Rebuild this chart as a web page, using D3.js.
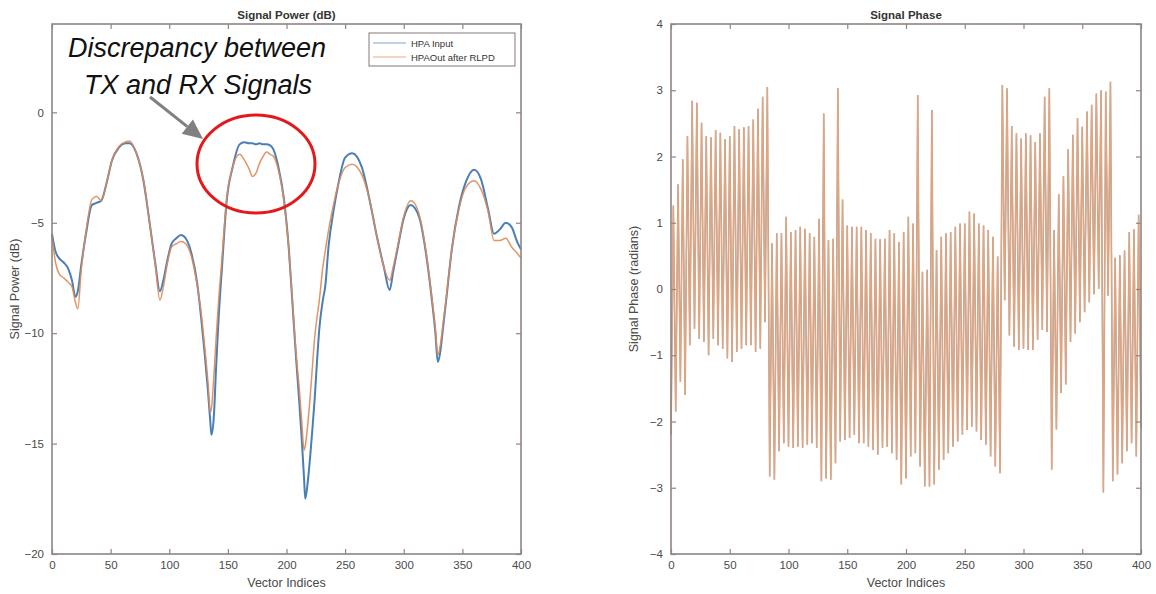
<!DOCTYPE html>
<html>
<head>
<meta charset="utf-8">
<script src="https://d3js.org/d3.v7.min.js"></script>
<style>
  body { margin: 0; background: #fff; }
  svg text { font-family: "Liberation Sans", Arial, sans-serif; }
</style>
</head>
<body>
<svg id="chart" width="1156" height="594"></svg>
<script>

// ---- data ----
var powerIdx = [0, 3, 6, 10, 14, 17, 20, 22, 25, 29, 34, 38, 42, 47, 51, 57, 63, 66, 72, 78,
    83, 88, 92, 95, 98, 102, 106, 110, 114, 119, 124, 127, 130, 133, 135, 136, 138, 140, 142, 145,
    149, 154, 160, 164, 168, 171, 174, 177, 180, 183, 186, 189, 193, 198, 202, 205, 208, 211, 213, 215,
    216, 218, 220, 222, 224, 226, 228, 231, 233, 236, 240, 244, 250, 256, 264, 271, 277, 283, 288, 291,
    295, 300, 306, 309, 314, 319, 324, 327, 329, 331, 333, 336, 341, 347, 353, 360, 366, 372, 377, 382,
    387, 392, 397, 400];

// HPA Input (blue)
var powerIn = [-5.5, -6.3, -6.6, -6.8, -7.1, -7.6, -8.35, -8.1, -6.9, -5.5, -4.2, -4.1, -4.0, -3.1, -2.2, -1.6, -1.4, -1.4, -1.85, -3.1,
    -4.9, -6.8, -8.1, -7.6, -6.8, -5.95, -5.7, -5.55, -5.7, -6.4, -7.8, -9.2, -10.8, -12.6, -14.0, -14.6, -13.8, -11.5, -9.4, -7.0,
    -4.0, -2.5, -1.45, -1.35, -1.4, -1.4, -1.45, -1.4, -1.45, -1.45, -1.5, -1.7, -2.45, -4.0, -6.2, -8.6, -11.0, -13.2, -14.8, -16.6,
    -17.5, -16.8, -15.7, -14.4, -13.0, -11.3, -9.8, -8.5, -7.9, -6.0, -4.5, -3.3, -2.05, -1.85, -2.45, -4.0, -5.6, -7.0, -8.05, -7.2,
    -6.1, -4.8, -4.2, -4.3, -4.9, -6.4, -8.5, -10.0, -11.3, -10.9, -10.0, -8.6, -6.2, -4.3, -3.15, -2.6, -3.05, -4.4, -5.5, -5.3,
    -5.0, -5.2, -5.9, -6.2];

// HPAOut after RLPD (orange)
var powerOut = [-5.6, -6.8, -7.3, -7.5, -7.7, -7.9, -8.6, -8.9, -7.1, -5.4, -3.95, -3.8, -4.0, -3.1, -2.2, -1.55, -1.33, -1.3, -1.85, -3.05,
    -4.9, -6.85, -8.5, -7.9, -6.95, -6.1, -5.95, -5.85, -5.95, -6.55, -7.9, -9.0, -10.5, -12.2, -13.6, -13.4, -12.0, -10.2, -8.6, -6.6,
    -3.9, -2.5, -1.9, -2.15, -2.55, -2.9, -2.75, -2.3, -2.0, -1.8, -1.9, -2.0, -2.6, -4.1, -6.2, -8.5, -10.8, -12.6, -14.0, -15.3,
    -15.1, -14.2, -13.0, -11.6, -10.2, -9.3, -8.5, -7.0, -6.3, -5.3, -4.2, -3.3, -2.5, -2.35, -2.8, -4.0, -5.6, -7.0, -7.6, -7.0,
    -6.0, -4.7, -4.0, -4.1, -4.8, -6.3, -8.4, -9.8, -11.0, -10.6, -9.8, -8.5, -6.2, -4.4, -3.4, -3.1, -3.5, -4.5, -5.8, -5.8,
    -5.7, -6.1, -6.4, -6.6];

// signal phase, one sample every 2 indices (0..400)
var phaseIdx = d3.range(0, 401, 2);
var phaseVals = [
    -2.2, 1.26, -1.85, 1.58, -1.4, 1.96, -1.6, 2.31, -0.85, 2.84,
    -0.6, 2.81, -0.75, 2.51, -0.8, 2.31, -1.0, 2.29, -0.75, 2.4,
    -0.85, 2.36, -0.9, 2.26, -1.05, 2.31, -1.1, 2.46, -0.95, 2.41,
    -0.9, 2.44, -0.85, 2.46, -0.85, 2.56, -0.95, 2.72, -0.9, 2.9,
    -0.5, 3.05, -2.83, 0.69, -2.88, 0.84, -2.45, 0.84, -2.33, 1.09,
    -2.38, 0.86, -2.4, 0.89, -2.38, 0.94, -2.4, 0.91, -2.35, 0.84,
    -2.33, 0.79, -2.4, 1.06, -2.9, 2.65, -2.86, 0.74, -2.88, 0.76,
    -2.63, 3.03, -2.3, 1.35, -2.28, 0.96, -2.25, 0.94, -2.2, 0.94,
    -2.33, 0.94, -2.33, 0.89, -2.38, 0.84, -2.43, 0.76, -2.5, 0.75,
    -2.4, 0.76, -2.38, 0.89, -2.48, 0.84, -2.58, 0.71, -2.95, 0.86,
    -2.86, 1.09, -2.53, 0.99, -2.48, 2.93, -2.68, 0.26, -2.98, 0.29,
    -2.98, 2.7, -2.95, 0.59, -2.73, 0.79, -2.58, 0.84, -2.48, 0.86,
    -2.38, 0.94, -2.3, 0.99, -2.2, 0.99, -2.13, 1.17, -2.08, 1.14,
    -2.15, 0.99, -2.28, 0.96, -2.35, 0.89, -2.53, 0.79, -2.68, 0.49,
    -2.78, 3.08, -0.17, 3.03, -0.7, 2.46, -0.87, 2.35, -0.92, 2.27,
    -0.9, 2.35, -0.92, 2.32, -0.92, 2.22, -0.77, 2.35, -0.62, 2.9,
    -0.65, 3.03, -2.73, 0.89, -2.12, 1.43, -1.57, 1.7, -1.44, 2.11,
    -0.8, 2.33, -0.67, 2.58, -0.5, 2.45, -0.35, 2.68, -0.2, 2.78,
    -0.08, 2.95, 0.0, 3.0, -3.07, 2.98, -0.1, 3.13, -2.9, 0.47,
    -2.8, 0.51, -2.63, 0.58, -2.45, 0.86, -2.33, 0.9, -2.53, 1.12,
    -2.1];

var xTicks = [0, 50, 100, 150, 200, 250, 300, 350, 400];
var powerTicks = [-20, -15, -10, -5, 0];
var phaseTicks = [-4, -3, -2, -1, 0, 1, 2, 3, 4];
var seriesNames = ['HPA Input', 'HPAOut after RLPD'];

var blue = '#4a7fb6', orange = '#de8a55';
var axisCol = '#8f8583', textCol = '#4a4a4a';

var svg = d3.select('#chart');

// panel geometry
var plotTop = 24, plotBottom = 554;
var leftPanel = {x0: 52, x1: 521};
var rightPanel = {x0: 671, x1: 1141};

function drawFrame(p, x, y, yTicks, title, ylabel) {
    var g = svg.append('g');
    var w = p.x1 - p.x0;

    var bx = g.append('g').attr('transform', 'translate(0,' + plotBottom + ')')
        .call(d3.axisBottom(x).tickValues(xTicks).tickSize(-5).tickPadding(7));
    var tx = g.append('g').attr('transform', 'translate(0,' + plotTop + ')')
        .call(d3.axisTop(x).tickValues(xTicks).tickSize(-5).tickFormat(''));
    var ly = g.append('g').attr('transform', 'translate(' + p.x0 + ',0)')
        .call(d3.axisLeft(y).tickValues(yTicks).tickSize(-5).tickPadding(8));
    var ry = g.append('g').attr('transform', 'translate(' + p.x1 + ',0)')
        .call(d3.axisRight(y).tickValues(yTicks).tickSize(-5).tickFormat(''));

    [bx, tx, ly, ry].forEach(function(a) {
        a.select('.domain').remove();
        a.selectAll('line').attr('stroke', axisCol).attr('stroke-width', 1.2);
        a.selectAll('text').attr('fill', textCol).style('font-size', '11.5px');
    });

    g.append('rect')
        .attr('x', p.x0).attr('y', plotTop)
        .attr('width', w).attr('height', plotBottom - plotTop)
        .attr('fill', 'none').attr('stroke', axisCol).attr('stroke-width', 1.6);

    g.append('text')
        .attr('x', (p.x0 + p.x1) / 2).attr('y', 19)
        .attr('text-anchor', 'middle')
        .style('font-size', '11.5px').style('font-weight', 'bold')
        .attr('fill', '#333').text(title);

    g.append('text')
        .attr('x', (p.x0 + p.x1) / 2).attr('y', 587)
        .attr('text-anchor', 'middle')
        .style('font-size', '12.5px').attr('fill', textCol)
        .text('Vector Indices');

    g.append('text')
        .attr('transform', 'translate(' + (p.x0 - 33) + ',' + ((plotTop + plotBottom) / 2) + ') rotate(-90)')
        .attr('text-anchor', 'middle')
        .style('font-size', '12.5px').attr('fill', textCol)
        .text(ylabel);
    return g;
}

// ---------------- left: signal power ----------------
var xL = d3.scaleLinear().domain([0, 400]).range([leftPanel.x0, leftPanel.x1]);
var yL = d3.scaleLinear().domain([-20, 4]).range([plotBottom, plotTop]);

var powerLine = d3.line()
    .x(function(d) { return xL(d[0]); })
    .y(function(d) { return yL(d[1]); })
    .curve(d3.curveMonotoneX);

var inPts = powerIdx.map(function(d, i) { return [d, powerIn[i]]; });
var outPts = powerIdx.map(function(d, i) { return [d, powerOut[i]]; });

svg.append('path').datum(inPts)
    .attr('d', powerLine).attr('fill', 'none')
    .attr('stroke', blue).attr('stroke-width', 2);
svg.append('path').datum(outPts)
    .attr('d', powerLine).attr('fill', 'none')
    .attr('stroke', orange).attr('stroke-width', 1.5).attr('stroke-opacity', 0.9);

drawFrame(leftPanel, xL, yL, powerTicks, 'Signal Power (dB)', 'Signal Power (dB)');

// legend
var lg = svg.append('g').attr('transform', 'translate(369,33)');
lg.append('rect').attr('width', 146).attr('height', 33)
    .attr('fill', '#fff').attr('stroke', axisCol).attr('stroke-width', 1.1);
seriesNames.forEach(function(name, i) {
    var yy = 10 + i * 14;
    lg.append('line').attr('x1', 4).attr('x2', 37).attr('y1', yy).attr('y2', yy)
        .attr('stroke', i ? orange : blue).attr('stroke-width', 1.2).attr('stroke-opacity', 0.7);
    lg.append('text').attr('x', 42).attr('y', yy + 3.5)
        .style('font-size', '9.5px').attr('fill', '#333').text(name);
});

// annotation
var ann = svg.append('g');
ann.append('text').attr('x', 197).attr('y', 57).attr('text-anchor', 'middle')
    .style('font-size', '27px').style('font-style', 'italic').attr('fill', '#111')
    .text('Discrepancy between');
ann.append('text').attr('x', 198).attr('y', 94).attr('text-anchor', 'middle')
    .style('font-size', '27px').style('font-style', 'italic').attr('fill', '#111')
    .text('TX and RX Signals');

var a0 = [150, 97], a1 = [203, 139];
var ang = Math.atan2(a1[1] - a0[1], a1[0] - a0[0]);
var headLen = 20, headW = 9;
var base = [a1[0] - headLen * Math.cos(ang), a1[1] - headLen * Math.sin(ang)];
ann.append('line').attr('x1', a0[0]).attr('y1', a0[1]).attr('x2', base[0]).attr('y2', base[1])
    .attr('stroke', '#808080').attr('stroke-width', 3);
ann.append('polygon')
    .attr('points', [
        a1,
        [base[0] + headW * Math.sin(ang), base[1] - headW * Math.cos(ang)],
        [base[0] - headW * Math.sin(ang), base[1] + headW * Math.cos(ang)]
    ].map(function(p) { return p.join(','); }).join(' '))
    .attr('fill', '#808080');

ann.append('ellipse').attr('cx', 256).attr('cy', 164).attr('rx', 59).attr('ry', 49)
    .attr('fill', 'none').attr('stroke', '#e3191c').attr('stroke-width', 3);

// ---------------- right: signal phase ----------------
var xR = d3.scaleLinear().domain([0, 400]).range([rightPanel.x0, rightPanel.x1]);
var yR = d3.scaleLinear().domain([-4, 4]).range([plotBottom, plotTop]);

var phaseLine = d3.line()
    .x(function(d) { return xR(d[0]); })
    .y(function(d) { return yR(d[1]); });

var phPts = phaseIdx.map(function(d, i) { return [d, phaseVals[i]]; });

svg.append('path').datum(phPts)
    .attr('d', phaseLine).attr('fill', 'none')
    .attr('stroke', '#a9a3a3').attr('stroke-width', 1.6);
svg.append('path').datum(phPts)
    .attr('d', phaseLine).attr('fill', 'none')
    .attr('stroke', '#e6a47a').attr('stroke-width', 1.2);

drawFrame(rightPanel, xR, yR, phaseTicks, 'Signal Phase', 'Signal Phase (radians)');

</script>
</body>
</html>
